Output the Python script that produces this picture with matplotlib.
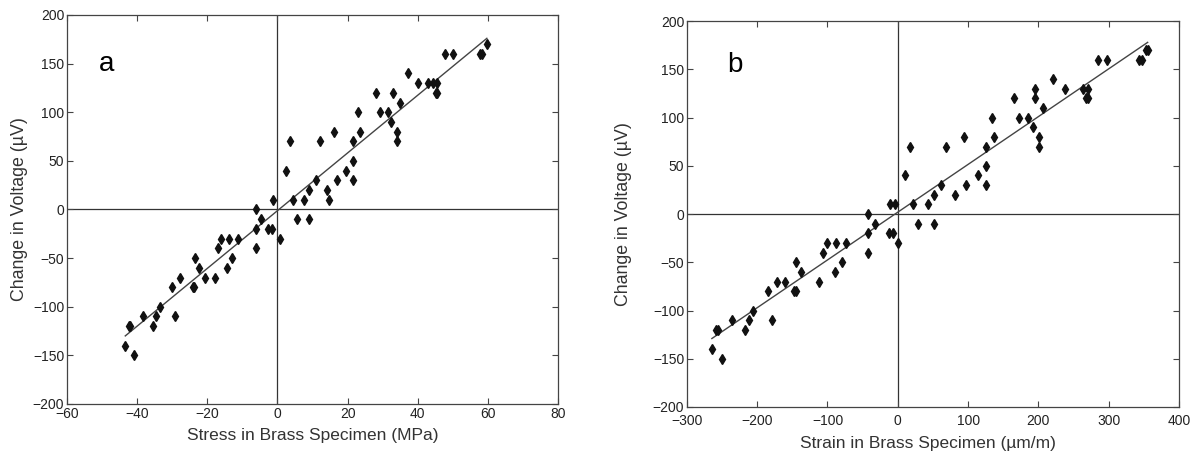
import numpy as np
import matplotlib
matplotlib.use("Agg")
import matplotlib.pyplot as plt

plt.rcParams['font.family'] = ['Liberation Sans', 'DejaVu Sans']

# panel a : stress (MPa) vs change in voltage (uV)
stress = [59.7, 58.3, 57.6, 47.8, 50.0, 37.2, 40.1, 43.0, 44.3, 45.6, 45.1, 45.5,
          28.2, 33.0, 35.0, 23.0, 29.2, 31.4, 32.5, 34.0, 34.0, 23.4, 21.4, 16.2,
          12.2, 3.5, 2.4, 21.4, 19.4, 21.4, 17.0, 10.9, 9.0, 14.2, 14.8, 7.7,
          4.5, -1.2, -6.2, -4.8, 5.5, 9.1, -6.2, -2.7, -1.5, 0.8, -6.2, -17.0,
          -16.2, -13.9, -11.4, -23.5, -12.9, -22.4, -14.4, -20.6, -17.9, -27.7, -30.0, -24.1,
          -23.8, -33.6, -38.4, -34.6, -29.3, -42.4, -42.0, -35.5, -43.4, -41.0]
volt_a = [170, 160, 160, 160, 160, 140, 130, 130, 130, 130, 120, 120,
          120, 120, 110, 100, 100, 100, 90, 80, 70, 80, 70, 80,
          70, 70, 40, 50, 40, 30, 30, 30, 20, 20, 10, 10,
          10, 10, 0, -10, -10, -10, -20, -20, -20, -30, -40, -40,
          -30, -30, -30, -50, -50, -60, -60, -70, -70, -70, -80, -80,
          -80, -100, -110, -110, -110, -120, -120, -120, -140, -150]
fit_a_x = [-43.4, 59.7]
fit_a_y = [-130, 176]

# panel b : strain (um/m) vs change in voltage (uV)
strain = [355.5, 353.0, 342.7, 347.4, 284.4, 297.2, 220.4, 238.4, 195.7, 264.0, 270.6, 267.8,
          270.6, 195.7, 165.0, 207.0, 134.0, 172.0, 185.3, 192.0, 200.5, 200.5, 137.0, 125.6,
          93.8, 68.7, 17.5, 10.0, 125.6, 114.2, 125.6, 97.6, 61.0, 51.2, 81.0, 43.1,
          22.3, -10.4, -3.3, -41.7, -31.8, 28.9, 52.1, -41.7, -12.8, -7.1, 0.0, -41.7,
          -101.4, -87.2, -73.0, -106.6, -144.5, -80.0, -137.9, -89.6, -112.3, -171.6, -160.7, -185.3,
          -148.3, -145.5, -205.7, -235.5, -211.8, -179.6, -258.3, -255.9, -217.5, -264.5, -250.2]
volt_b = [170, 170, 160, 160, 160, 160, 140, 130, 130, 130, 130, 120,
          120, 120, 120, 110, 100, 100, 100, 90, 80, 70, 80, 70,
          80, 70, 70, 40, 50, 40, 30, 30, 30, 20, 20, 10,
          10, 10, 10, 0, -10, -10, -10, -20, -20, -20, -30, -40,
          -30, -30, -30, -40, -50, -50, -60, -60, -70, -70, -70, -80,
          -80, -80, -100, -110, -110, -110, -120, -120, -120, -140, -150]
fit_b_x = [-264.5, 355.5]
fit_b_y = [-129, 178]

ylabel = 'Change in Voltage (\u00b5V)'

fig = plt.figure(figsize=(11.93, 4.55), dpi=100)
ax1 = fig.add_axes([0.0562, 0.1121, 0.4116, 0.855])
ax2 = fig.add_axes([0.5758, 0.1055, 0.4124, 0.848])

panels = [
  (ax1, stress, volt_a, fit_a_x, fit_a_y, (-60, 80), np.arange(-60, 81, 20),
   'Stress in Brass Specimen (MPa)', 'a', (-51, 150), (0.5, -0.062), (-0.079, 0.5), 2),
  (ax2, strain, volt_b, fit_b_x, fit_b_y, (-300, 400), np.arange(-300, 401, 100),
   'Strain in Brass Specimen (\u00b5m/m)', 'b', (-243, 155), (0.49, -0.074), (-0.111, 0.5), 5),
]

for ax, xs, ys, fx, fy, xlim, xticks, xlabel, tag, tagpos, xlc, ylc, xpad in panels:
  ax.axhline(0, color='#333333', lw=0.9, zorder=1)
  ax.axvline(0, color='#333333', lw=0.9, zorder=1)
  ax.plot(fx, fy, color='#444444', lw=1.0, zorder=2)
  ax.plot(xs, ys, linestyle='none', marker='d', ms=5.5, color='#111111', zorder=3)
  ax.set_xlim(xlim)
  ax.set_ylim(-200, 200)
  ax.set_xticks(xticks)
  ax.set_yticks(np.arange(-200, 201, 50))
  ax.tick_params(direction='in', top=True, right=True, length=4, width=0.8,
                 labelsize=10, color='#444444', labelcolor='#222222', pad=2)
  ax.tick_params(axis='x', pad=xpad)
  for s in ax.spines.values():
    s.set_color('#444444')
    s.set_linewidth(0.9)
  ax.set_xlabel(xlabel, fontsize=12.5, color='#333333', va='top')
  ax.xaxis.set_label_coords(*xlc)
  ax.set_ylabel(ylabel, fontsize=12.8, color='#333333')
  ax.yaxis.set_label_coords(*ylc)
  ax.text(tagpos[0], tagpos[1], tag, fontsize=20, color='black', va='center')

fig.savefig('out.png', dpi=100)
